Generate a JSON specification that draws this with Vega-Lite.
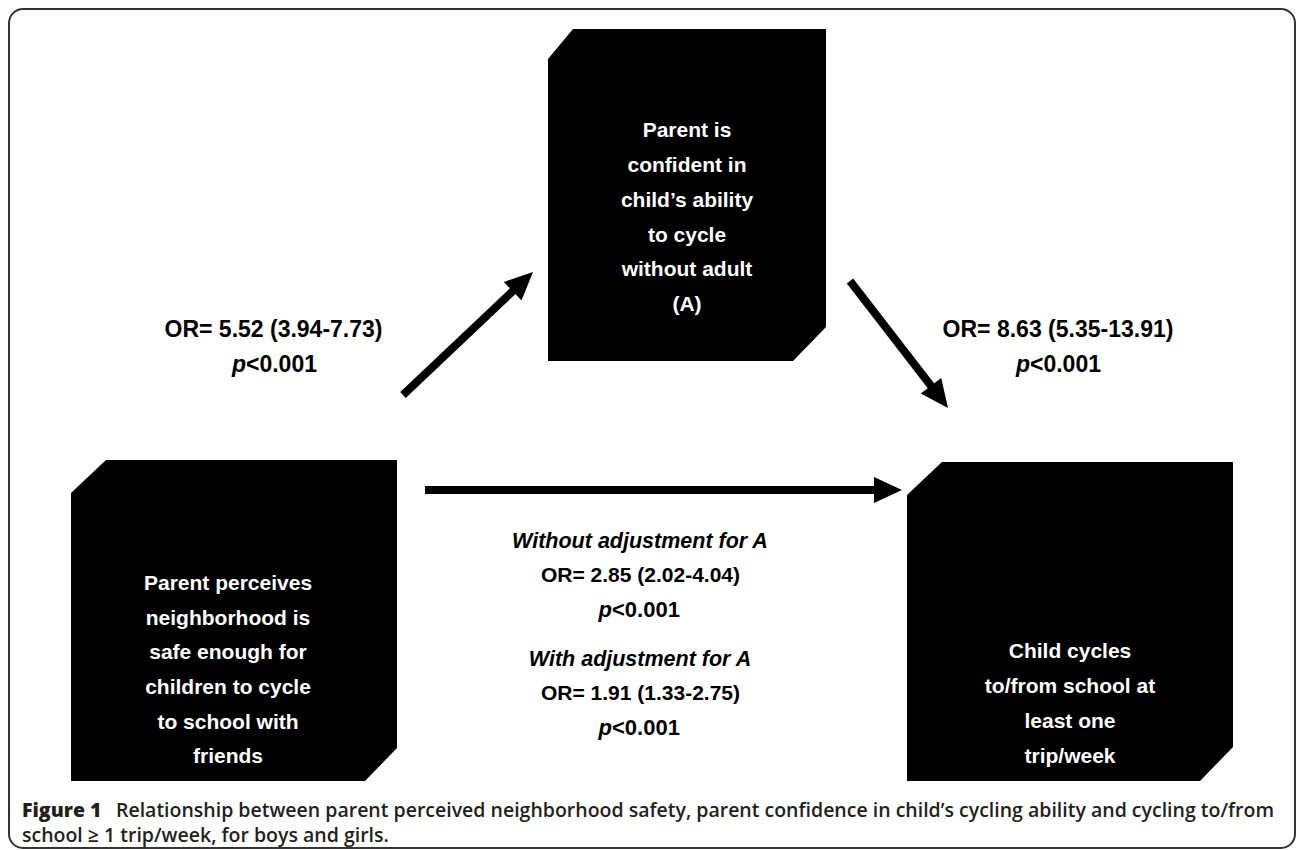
{
  "$schema": "https://vega.github.io/schema/vega-lite/v6.json",
  "width": 1296,
  "height": 851,
  "padding": 0,
  "autosize": {"type": "none"},
  "background": "white",
  "config": {"view": {"stroke": null}},
  "datasets": {
    "frame": [{"x": 9, "x2": 1295, "y": 9, "y2": 848}],
    "boxes": [
      {"box": "A", "x": 548, "top": 59, "bottom": 361},
      {"box": "A", "x": 573, "top": 29, "bottom": 361},
      {"box": "A", "x": 793, "top": 29, "bottom": 361},
      {"box": "A", "x": 826, "top": 29, "bottom": 327},
      {"box": "S", "x": 71, "top": 493, "bottom": 781},
      {"box": "S", "x": 106, "top": 460, "bottom": 781},
      {"box": "S", "x": 365, "top": 460, "bottom": 781},
      {"box": "S", "x": 397, "top": 460, "bottom": 748},
      {"box": "C", "x": 907, "top": 495, "bottom": 781},
      {"box": "C", "x": 942, "top": 462, "bottom": 781},
      {"box": "C", "x": 1200, "top": 462, "bottom": 781},
      {"box": "C", "x": 1233, "top": 462, "bottom": 747}
    ],
    "arrows": [
      {"arrow": "S→A", "x": 403, "y": 395, "x2": 516, "y2": 288, "tx": 533, "ty": 272, "dir": 316.6},
      {"arrow": "A→C", "x": 850, "y": 281, "x2": 935, "y2": 391, "tx": 948, "ty": 408, "dir": 52.6},
      {"arrow": "S→C", "x": 425, "y": 490, "x2": 880, "y2": 490, "tx": 902, "ty": 490, "dir": 0}
    ],
    "whiteText": [
      {"t": "Parent is", "x": 687, "y": 131},
      {"t": "confident in", "x": 687, "y": 166},
      {"t": "child’s ability", "x": 687, "y": 201},
      {"t": "to cycle", "x": 687, "y": 236},
      {"t": "without adult", "x": 687, "y": 270},
      {"t": "(A)", "x": 687, "y": 305},
      {"t": "Parent perceives", "x": 228, "y": 584},
      {"t": "neighborhood is", "x": 228, "y": 619},
      {"t": "safe enough for", "x": 228, "y": 653},
      {"t": "children to cycle", "x": 228, "y": 688},
      {"t": "to school with", "x": 228, "y": 723},
      {"t": "friends", "x": 228, "y": 757},
      {"t": "Child cycles", "x": 1070, "y": 652},
      {"t": "to/from school at", "x": 1070, "y": 687},
      {"t": "least one", "x": 1070, "y": 722},
      {"t": "trip/week", "x": 1070, "y": 757}
    ],
    "boldTop": [
      {"t": "OR= 5.52 (3.94-7.73)", "x": 273.5, "y": 330},
      {"t": "OR= 8.63 (5.35-13.91)", "x": 1058, "y": 330}
    ],
    "boldCenter": [
      {"t": "OR= 2.85 (2.02-4.04)", "x": 640.5, "y": 576},
      {"t": "OR= 1.91 (1.33-2.75)", "x": 640.5, "y": 694}
    ],
    "italicCenter": [
      {"t": "Without adjustment for A", "x": 640, "y": 542},
      {"t": "With adjustment for A", "x": 640, "y": 660}
    ],
    "pItalicTop": [
      {"t": "p", "x": 246, "y": 365},
      {"t": "p", "x": 1030, "y": 365}
    ],
    "pValueTop": [
      {"t": "<0.001", "x": 246, "y": 365},
      {"t": "<0.001", "x": 1030, "y": 365}
    ],
    "pItalicMid": [
      {"t": "p", "x": 612, "y": 610},
      {"t": "p", "x": 612, "y": 728}
    ],
    "pValueMid": [
      {"t": "<0.001", "x": 612, "y": 610},
      {"t": "<0.001", "x": 612, "y": 728}
    ],
    "capBold": [
      {"t": "Figure 1", "x": 22, "y": 811}
    ],
    "capRight": [
      {"t": "Relationship between parent perceived neighborhood safety, parent confidence in child’s cycling ability and cycling to/from", "x": 1274, "y": 811}
    ],
    "capLeft": [
      {"t": "school ≥ 1 trip/week, for boys and girls.", "x": 22, "y": 836}
    ]
  },
  "layer": [
    {
      "data": {"name": "frame"},
      "mark": {"type": "rect", "fill": null, "fillOpacity": 0, "stroke": "#333333", "strokeWidth": 2, "cornerRadius": 14},
      "encoding": {
        "x": {"field": "x", "type": "quantitative", "scale": {"domain": [0, 1296], "range": [0, 1296], "nice": false, "zero": false}, "axis": null},
        "x2": {"field": "x2"},
        "y": {"field": "y", "type": "quantitative", "scale": {"domain": [0, 851], "range": [0, 851], "nice": false, "zero": false}, "axis": null},
        "y2": {"field": "y2"}
      }
    },
    {
      "data": {"name": "boxes"},
      "mark": {"type": "area", "orient": "vertical", "color": "black", "interpolate": "linear", "opacity": 1},
      "encoding": {
        "x": {"field": "x", "type": "quantitative", "axis": null},
        "y": {"field": "top", "type": "quantitative", "axis": null},
        "y2": {"field": "bottom"},
        "detail": {"field": "box"}
      }
    },
    {
      "data": {"name": "arrows"},
      "mark": {"type": "rule", "color": "black", "strokeWidth": 8, "strokeCap": "butt"},
      "encoding": {
        "x": {"field": "x", "type": "quantitative", "axis": null},
        "y": {"field": "y", "type": "quantitative", "axis": null},
        "x2": {"field": "x2"},
        "y2": {"field": "y2"}
      }
    },
    {
      "data": {"name": "arrows"},
      "mark": {"type": "point", "shape": "M0,0L-1,-0.46L-1,0.46Z", "filled": true, "color": "black", "opacity": 1, "size": 3136, "strokeWidth": 0},
      "encoding": {
        "x": {"field": "tx", "type": "quantitative", "axis": null},
        "y": {"field": "ty", "type": "quantitative", "axis": null},
        "angle": {"field": "dir", "type": "quantitative", "scale": null}
      }
    },
    {
      "data": {"name": "whiteText"},
      "mark": {"type": "text", "font": "Liberation Sans", "fontWeight": "bold", "fontSize": 21, "color": "white", "align": "center", "baseline": "middle"},
      "encoding": {
        "x": {"field": "x", "type": "quantitative", "axis": null},
        "y": {"field": "y", "type": "quantitative", "axis": null},
        "text": {"field": "t"}
      }
    },
    {
      "data": {"name": "boldTop"},
      "mark": {"type": "text", "font": "Liberation Sans", "fontWeight": "bold", "fontSize": 23, "color": "black", "align": "center", "baseline": "middle"},
      "encoding": {
        "x": {"field": "x", "type": "quantitative", "axis": null},
        "y": {"field": "y", "type": "quantitative", "axis": null},
        "text": {"field": "t"}
      }
    },
    {
      "data": {"name": "boldCenter"},
      "mark": {"type": "text", "font": "Liberation Sans", "fontWeight": "bold", "fontSize": 21, "color": "black", "align": "center", "baseline": "middle"},
      "encoding": {
        "x": {"field": "x", "type": "quantitative", "axis": null},
        "y": {"field": "y", "type": "quantitative", "axis": null},
        "text": {"field": "t"}
      }
    },
    {
      "data": {"name": "italicCenter"},
      "mark": {"type": "text", "font": "Liberation Sans", "fontWeight": "bold", "fontStyle": "italic", "fontSize": 21.5, "color": "black", "align": "center", "baseline": "middle"},
      "encoding": {
        "x": {"field": "x", "type": "quantitative", "axis": null},
        "y": {"field": "y", "type": "quantitative", "axis": null},
        "text": {"field": "t"}
      }
    },
    {
      "data": {"name": "pItalicTop"},
      "mark": {"type": "text", "font": "Liberation Sans", "fontWeight": "bold", "fontStyle": "italic", "fontSize": 23, "color": "black", "align": "right", "baseline": "middle"},
      "encoding": {
        "x": {"field": "x", "type": "quantitative", "axis": null},
        "y": {"field": "y", "type": "quantitative", "axis": null},
        "text": {"field": "t"}
      }
    },
    {
      "data": {"name": "pValueTop"},
      "mark": {"type": "text", "font": "Liberation Sans", "fontWeight": "bold", "fontSize": 23, "color": "black", "align": "left", "baseline": "middle"},
      "encoding": {
        "x": {"field": "x", "type": "quantitative", "axis": null},
        "y": {"field": "y", "type": "quantitative", "axis": null},
        "text": {"field": "t"}
      }
    },
    {
      "data": {"name": "pItalicMid"},
      "mark": {"type": "text", "font": "Liberation Sans", "fontWeight": "bold", "fontStyle": "italic", "fontSize": 22, "color": "black", "align": "right", "baseline": "middle"},
      "encoding": {
        "x": {"field": "x", "type": "quantitative", "axis": null},
        "y": {"field": "y", "type": "quantitative", "axis": null},
        "text": {"field": "t"}
      }
    },
    {
      "data": {"name": "pValueMid"},
      "mark": {"type": "text", "font": "Liberation Sans", "fontWeight": "bold", "fontSize": 22, "color": "black", "align": "left", "baseline": "middle"},
      "encoding": {
        "x": {"field": "x", "type": "quantitative", "axis": null},
        "y": {"field": "y", "type": "quantitative", "axis": null},
        "text": {"field": "t"}
      }
    },
    {
      "data": {"name": "capBold"},
      "mark": {"type": "text", "font": "Open Sans", "fontWeight": 800, "fontSize": 19.5, "color": "#231f20", "align": "left", "baseline": "middle"},
      "encoding": {
        "x": {"field": "x", "type": "quantitative", "axis": null},
        "y": {"field": "y", "type": "quantitative", "axis": null},
        "text": {"field": "t"}
      }
    },
    {
      "data": {"name": "capRight"},
      "mark": {"type": "text", "font": "Open Sans", "fontWeight": 600, "fontSize": 19.5, "color": "#231f20", "align": "right", "baseline": "middle"},
      "encoding": {
        "x": {"field": "x", "type": "quantitative", "axis": null},
        "y": {"field": "y", "type": "quantitative", "axis": null},
        "text": {"field": "t"}
      }
    },
    {
      "data": {"name": "capLeft"},
      "mark": {"type": "text", "font": "Open Sans", "fontWeight": 600, "fontSize": 19.5, "color": "#231f20", "align": "left", "baseline": "middle"},
      "encoding": {
        "x": {"field": "x", "type": "quantitative", "axis": null},
        "y": {"field": "y", "type": "quantitative", "axis": null},
        "text": {"field": "t"}
      }
    }
  ]
}
